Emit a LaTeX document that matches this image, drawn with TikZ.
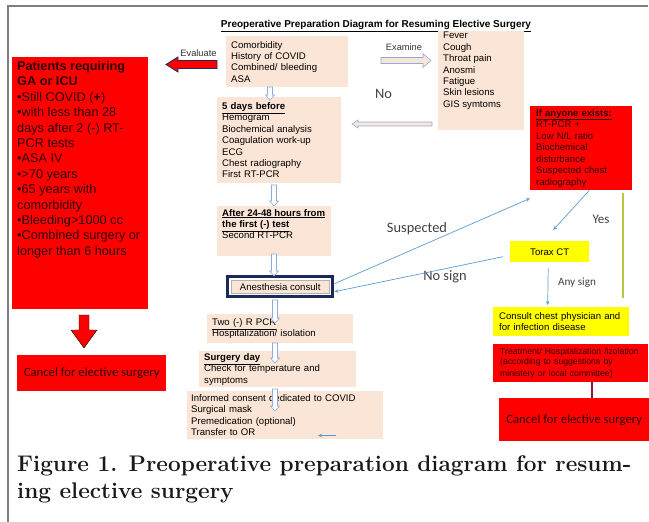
\documentclass[tikz,border=0pt]{standalone}
\usepackage{fontspec}
\newfontfamily\arial{Liberation Sans}
\newfontfamily\calibri{Carlito}
\usetikzlibrary{
    arrows.meta,
    positioning,
    fit
}
\definecolor{peachfill}{HTML}{FBE5D6}
\definecolor{alertred}{HTML}{FF0000}
\definecolor{signyellow}{HTML}{FFFF00}
\definecolor{navyframe}{HTML}{1B2A5C}
\definecolor{linkblue}{HTML}{5B9BD5}
\definecolor{outlineblue}{HTML}{8FAADC}
\definecolor{yesgreen}{HTML}{BCC63A}
\definecolor{maroonline}{HTML}{A01030}
\definecolor{framegray}{HTML}{7F7F7F}
\definecolor{darktext}{HTML}{2A0000}
\tikzset{
    % Boxes
    prep box/.style={fill=peachfill,anchor=north west,inner xsep=5pt,inner ysep=1pt,align=left,
        font=\arial\fontsize{9.6}{11.4}\selectfont},
    alert box/.style={prep box,fill=alertred,text=darktext},
    sign box/.style={prep box,fill=signyellow},
    cancel box/.style={fill=alertred,anchor=north west,inner sep=0pt,text=darktext,
        font=\calibri\fontsize{12.7}{14}\selectfont},
    %
    % Labels
    arial label/.style={inner sep=0pt,font=\arial\fontsize{9.3}{11}\selectfont,text=black!80},
    branch label/.style={inner sep=0pt,font=\calibri\fontsize{14.4}{16}\selectfont,text=black!75},
    caption text/.style={anchor=north west,inner sep=0pt,align=left,text=black!90,
        font=\bfseries\fontsize{22.6}{27}\selectfont},
    %
    % Lines and arrows
    frame line/.style={framegray,line width=1.8pt},
    blue arr/.style={draw=linkblue,line width=.7pt,-{Stealth[length=4pt,width=3.5pt]}},
    yes line/.style={yesgreen,line width=2.5pt},
    maroon line/.style={maroonline,line width=2pt},
    hollow arrow/.style={draw=outlineblue,fill=white,line width=.6pt},
    pics/block arrow/.style n args={4}{code={
        \draw[pic actions] (0,-#2) -- (#1-#4,-#2) -- (#1-#4,-#3) -- (#1,0) -- (#1-#4,#3) -- (#1-#4,#2) -- (0,#2) -- cycle;
    }}
}
\begin{document}
\begin{tikzpicture}[x=1pt,y=-1pt]
    \useasboundingbox (0,0) rectangle (649,522);
    \draw[frame line] (8,522) -- (8,6) -- (648,6);
    \node[inner sep=0pt,font=\arial\bfseries\fontsize{10}{12}\selectfont] (title) at (376,26)
        {\underline{Preoperative Preparation Diagram for Resuming Elective Surgery}};
    % main column
    \node[prep box,text width=112pt,minimum height=51pt] (comorb) at (226,36)
        {Comorbidity\\History of COVID\\Combined/ bleeding\\ASA};
    \node[prep box] (symptoms) at (438,31)
        {\parbox[c][97pt][t]{76pt}{Fever\\Cough\\Throat pain\\Anosmi\\Fatigue\\Skin lesions\\GIS symtoms}};
    \node[prep box,text width=114pt,minimum height=86pt] (days) at (217,97)
        {\textbf{\underline{5 days before}}\\Hemogram\\Biochemical analysis\\Coagulation work-up\\ECG\\Chest radiography\\First RT-PCR};
    \node[prep box,inner ysep=3pt] (after) at (217,206)
        {\parbox[c][44pt][t]{104pt}{\textbf{\underline{After 24-48 hours from}}\\\textbf{\underline{the first (-) test}}\\Second RT-PCR}};
    \node[prep box,draw=gray!60,line width=.4pt,inner xsep=2pt,minimum width=98pt,minimum height=13pt] (anes) at (231,280)
        {Anesthesia consult};
    \node[fit=(anes),inner sep=3.5pt,draw=navyframe,line width=3pt] (anesframe) {};
    \node[prep box,text width=136pt,minimum height=29pt] (two) at (207,314)
        {\underline{Two (-) R PCR}\\Hospitalization/ isolation};
    \node[prep box,text width=147pt,minimum height=36pt] (surgery) at (199,351)
        {\textbf{\underline{Surgery day}}\\Check for temperature and\\symptoms};
    \node[prep box,inner xsep=4pt,text width=188pt,minimum height=48pt] (informed) at (187,391)
        {Informed consent dedicated to COVID\\Surgical mask\\Premedication (optional)\\Transfer to OR};
    % left branch
    \node[alert box,inner ysep=4pt] (patients) at (12,57)
        {\parbox[c][244pt][t]{126pt}{\fontsize{12.7}{15.4}\selectfont
        \textbf{Patients requiring}\\\textbf{GA or ICU}\\\textbullet Still COVID (\textbf{+})\\\textbullet with less than 28\\days after 2 (-) RT-\\PCR tests\\\textbullet ASA IV\\\textbullet >70 years\\\textbullet 65 years with\\comorbidity\\\textbullet Bleeding>1000 cc\\\textbullet Combined surgery or\\longer than 6 hours}};
    \node[cancel box,minimum width=149pt,minimum height=36pt] (cancelleft) at (17,355)
        {Cancel for elective surgery};
    % right branch
    \node[alert box,inner xsep=6pt,text width=90pt,minimum height=84pt] (anyone) at (530,106)
        {\fontsize{9.5}{11.5}\selectfont\textbf{\underline{If anyone exists:}}\\RT-PCR +\\Low N/L ratio\\Biochemical\\disturbance\\Suspected chest\\radiography};
    \node[sign box,align=center,inner sep=0pt,minimum width=79pt,minimum height=21pt] (torax) at (510,241)
        {Torax CT};
    \node[sign box,inner xsep=6pt,text width=124pt,minimum height=29pt] (consult) at (493,307)
        {Consult chest physician and\\for infection disease};
    \node[alert box,inner xsep=7pt,text width=141pt,minimum height=38pt] (treatment) at (493,344)
        {\fontsize{8.65}{10.5}\selectfont Treatment/ Hospitalization /izolation\\(according to suggestions by\\ministery or local committee)};
    \node[cancel box,minimum width=150pt,minimum height=43pt] (cancelright) at (499,398)
        {Cancel for elective surgery};
    % labels
    \node[arial label] (evaluate) at (198.5,53) {Evaluate};
    \node[arial label] (examine) at (404,47) {Examine};
    \node[branch label] (no) at (383.5,94) {No};
    \node[branch label] (suspected) at (417,229) {Suspected};
    \node[branch label] (nosign) at (445,277) {No sign};
    \node[branch label,font=\calibri\fontsize{13}{15}\selectfont] (yes) at (601,219) {Yes};
    \node[branch label,font=\calibri\fontsize{11.2}{13}\selectfont] (anysign) at (577,283) {Any sign};
    % block arrows
    \pic[rotate=180,fill=alertred,draw=navyframe,line width=.8pt] (evalarrow) at (217,64.5) {block arrow={51}{4}{7.5}{12}};
    \pic[hollow arrow,fill=peachfill] (examarrow) at (381,60.5) {block arrow={50}{3}{7}{8}};
    \pic[rotate=180,hollow arrow,fill=peachfill] (noarrow) at (432,124) {block arrow={80}{2}{4}{6}};
    \pic[rotate=-90,fill=alertred] (cancelarrow) at (84,315) {block arrow={33}{5}{13}{18}};
    \foreach \x/\y/\len [count=\i] in {270/87/13,274/185/21,274/254/22,275/300/23,275/343/20,275/389/22}{
        \pic[rotate=-90,hollow arrow] (down\i) at (\x,\y) {block arrow={\len}{2.5}{4.5}{5}};
    }
    % connectors
    \draw[blue arr] ([yshift=3pt]anesframe.east) -- ([yshift=-8pt]anyone.south west);
    \draw[blue arr] ([xshift=8pt]anyone.south) -- ([xshift=3.5pt,yshift=11pt]torax.north);
    \draw[blue arr] ([xshift=-7pt,yshift=-5pt]torax.west) -- ([yshift=-5pt]anesframe.east);
    \draw[blue arr] ([xshift=-1.5pt,yshift=-6pt]torax.south) -- ([xshift=-13.5pt,yshift=2pt]consult.north);
    \coordinate (yestop) at (623,193);
    \coordinate (yesend) at (623,298);
    \draw[yes line] (yestop) -- (yesend);
    \draw[maroon line] ([xshift=21.5pt]treatment.south) -- ([xshift=21.5pt]treatment.south |- cancelright.north);
    \coordinate (orstart) at (336,435.5);
    \coordinate (ortip) at (318,435.5);
    \draw[blue arr] (orstart) -- (ortip);
    % caption
    \node[caption text] (caption) at (17,455)
        {Figure 1. Preoperative preparation diagram for resum-\\ing elective surgery};
\end{tikzpicture}
\end{document}
